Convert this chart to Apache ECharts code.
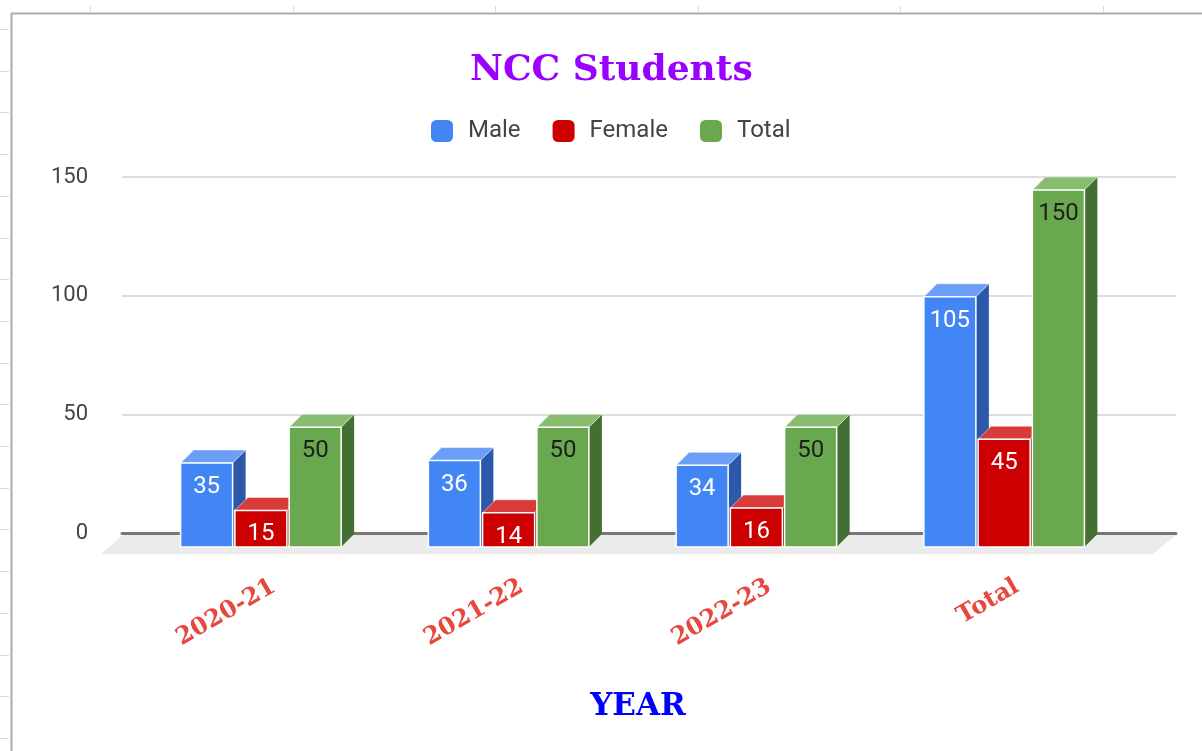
<!DOCTYPE html>
<html>
<head>
<meta charset="utf-8">
<script src="https://cdn.jsdelivr.net/npm/echarts@6/dist/echarts.min.js"></script>
<style>
  html, body { margin: 0; padding: 0; background: #fff; }
  #chart { width: 1202px; height: 751px; }
</style>
</head>
<body>
<div id="chart"></div>
<script>
// data
const years = ['2020-21', '2021-22', '2022-23', 'Total'];
const male = [35, 36, 34, 105];
const female = [15, 14, 16, 45];
const total = [50, 50, 50, 150];
const yTicks = [0, 50, 100, 150];

// face colours for the 3d boxes
const faces = [
  { front: '#4285f4', top: '#6b9ff7', side: '#2b58a8', text: '#ffffff' },
  { front: '#cc0000', top: '#d93a3a', side: '#8a0f0f', text: '#ffffff' },
  { front: '#6aa84f', top: '#88bd70', side: '#446f33', text: '#1e1e1e' }
];
const DX = 13; // depth to the right
const DY = 13; // depth upwards

const chart = echarts.init(document.getElementById('chart'));

// one 3d box per value, placed from the category axis
function box(s) {
  return function (params, api) {
    const i = api.value(0);
    const v = api.value(1);
    const band = api.size([1, 0])[0];
    const w = band * 0.21;
    const pitch = band * 0.219;
    const top = api.coord([i, v]);
    const base = api.coord([i, 0]);
    const bx = top[0] + (s - 1) * pitch - w / 2;
    const fx = bx - DX;
    const fy = top[1] + DY;
    const fb = base[1] + DY + 1;
    const c = faces[s];
    return {
      type: 'group',
      children: [
        {
          type: 'polygon',
          shape: { points: [[fx + w, fy], [fx + w + DX, fy - DY], [fx + w + DX, fb - DY], [fx + w, fb]] },
          style: { fill: c.side }
        },
        {
          type: 'polygon',
          shape: { points: [[fx, fy], [fx + DX, fy - DY], [fx + w + DX, fy - DY], [fx + w, fy]] },
          style: { fill: c.top, stroke: 'rgba(255,255,255,0.5)', lineWidth: 1 }
        },
        {
          type: 'rect',
          shape: { x: fx, y: fy, width: w, height: fb - fy },
          style: { fill: c.front, stroke: '#ffffff', lineWidth: 1.5 }
        },
        {
          type: 'text',
          x: fx + w / 2,
          y: fy + 24,
          style: {
            text: String(v),
            fill: c.text,
            font: '24px Roboto',
            align: 'center',
            verticalAlign: 'middle'
          }
        }
      ]
    };
  };
}

// spreadsheet frame around the chart
const frame = [
  { type: 'line', shape: { x1: 11.5, y1: 13, x2: 11.5, y2: 751 }, style: { stroke: '#ababab', lineWidth: 2 } },
  { type: 'line', shape: { x1: 11, y1: 13.5, x2: 1202, y2: 13.5 }, style: { stroke: '#ababab', lineWidth: 2 } }
];
for (let y = 29; y < 751; y += 41.7) {
  frame.push({ type: 'line', shape: { x1: 0, y1: Math.round(y) + 0.5, x2: 9, y2: Math.round(y) + 0.5 }, style: { stroke: '#dadada', lineWidth: 1 } });
}
for (let x = 90; x < 1202; x += 202.5) {
  frame.push({ type: 'line', shape: { x1: Math.round(x) + 0.5, y1: 6, x2: Math.round(x) + 0.5, y2: 12 }, style: { stroke: '#dadada', lineWidth: 1 } });
}

chart.setOption({
  animation: false,
  backgroundColor: '#ffffff',
  graphic: frame,
  title: {
    text: 'NCC Students',
    left: 465,
    top: 48,
    textStyle: {
      fontFamily: 'DejaVu Serif',
      fontWeight: 'bold',
      fontSize: 36,
      color: '#9900ff'
    }
  },
  legend: {
    data: ['Male', 'Female', 'Total'],
    left: 426,
    top: 114,
    icon: 'roundRect',
    itemWidth: 22,
    itemHeight: 22,
    itemGap: 32,
    textStyle: {
      fontFamily: 'Roboto',
      fontSize: 24,
      color: '#444444',
      padding: [0, 0, 0, 10]
    }
  },
  grid: [
    { left: 122, right: 26, top: 177, bottom: 218 },
    { left: 150, right: 61, top: 177, bottom: 218 }
  ],
  xAxis: [
    {
      // back wall: carries the dark zero line
      gridIndex: 0,
      type: 'value',
      min: 0,
      max: 1,
      axisLine: { show: true, lineStyle: { color: '#777777', width: 3 } },
      axisTick: { show: false },
      axisLabel: { show: false },
      splitLine: { show: false }
    },
    {
      gridIndex: 1,
      type: 'category',
      data: years,
      axisLine: { show: false },
      axisTick: { show: false },
      axisLabel: {
        rotate: 30,
        margin: 52,
        fontFamily: 'DejaVu Serif',
        fontWeight: 'bold',
        fontSize: 24,
        color: '#e8473d'
      },
      name: 'YEAR',
      nameLocation: 'middle',
      nameGap: 158,
      nameTextStyle: {
        fontFamily: 'DejaVu Serif',
        fontWeight: 'bold',
        fontSize: 31,
        color: '#0000ff',
        padding: [0, 15, 0, 0]
      }
    }
  ],
  yAxis: [
    {
      gridIndex: 0,
      type: 'value',
      min: yTicks[0],
      max: yTicks[yTicks.length - 1],
      interval: yTicks[1] - yTicks[0],
      axisLine: { show: false },
      axisTick: { show: false },
      axisLabel: {
        margin: 34,
        fontFamily: 'Roboto',
        fontSize: 22,
        color: '#444444'
      },
      splitLine: { lineStyle: { color: '#dcdcdc', width: 2 } }
    },
    {
      gridIndex: 1,
      type: 'value',
      min: yTicks[0],
      max: yTicks[yTicks.length - 1],
      show: false
    }
  ],
  series: [
    {
      // floor under the bars
      type: 'custom',
      name: 'floor',
      xAxisIndex: 0,
      yAxisIndex: 0,
      z: -1,
      silent: true,
      data: [[0, 0]],
      renderItem: function (params, api) {
        const a = api.coord([0, 0]);
        const b = api.coord([1, 0]);
        return {
          type: 'polygon',
          shape: { points: [[a[0] + 1, a[1] + 2], [b[0], b[1] + 2], [b[0] - 23, b[1] + 21], [a[0] - 21, a[1] + 21]] },
          style: { fill: '#ebebeb' }
        };
      }
    },
    {
      type: 'custom', name: 'Male', xAxisIndex: 1, yAxisIndex: 1,
      itemStyle: { color: faces[0].front },
      data: male.map((v, i) => [i, v]),
      renderItem: box(0)
    },
    {
      type: 'custom', name: 'Female', xAxisIndex: 1, yAxisIndex: 1,
      itemStyle: { color: faces[1].front },
      data: female.map((v, i) => [i, v]),
      renderItem: box(1)
    },
    {
      type: 'custom', name: 'Total', xAxisIndex: 1, yAxisIndex: 1,
      itemStyle: { color: faces[2].front },
      data: total.map((v, i) => [i, v]),
      renderItem: box(2)
    }
  ]
});
</script>
</body>
</html>
